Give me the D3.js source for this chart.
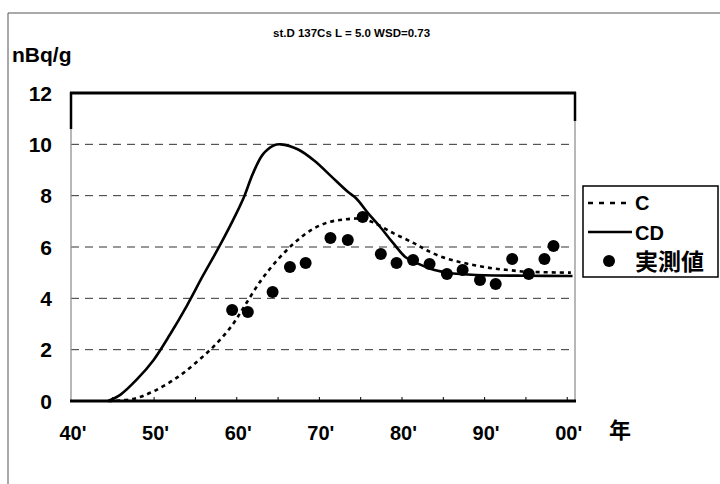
<!DOCTYPE html>
<html>
<head>
<meta charset="utf-8">
<script src="https://cdn.jsdelivr.net/npm/d3@7"></script>
<style>
  body { margin: 0; background: #fff; }
  svg { display: block; font-family: "Liberation Sans", Arial, sans-serif; }
</style>
</head>
<body>
<div id="chart"></div>
<script>
var W = 720, H = 484;

// model curve C (dotted)
var cYears  = [1944.5, 1947.5, 1950, 1953, 1955.5, 1957.5, 1959.5, 1961, 1963, 1965, 1967, 1969, 1971, 1973, 1975, 1976.5, 1979, 1981.5, 1983, 1985, 1987, 1989, 1991, 1993, 1995, 2000.5];
var cValues = [0, 0.08, 0.38, 0.95, 1.6, 2.2, 2.95, 3.7, 4.7, 5.5, 6.15, 6.65, 6.95, 7.07, 7.1, 6.97, 6.54, 6.15, 5.88, 5.6, 5.42, 5.28, 5.17, 5.1, 5.04, 5.0];

// model curve CD (solid)
var cdYears  = [1944.5, 1946, 1948, 1950, 1952, 1954, 1956, 1958, 1960, 1961, 1962, 1963.2, 1964.5, 1965.4, 1967.5, 1969.5, 1971.5, 1973.5, 1974.5, 1976, 1977.5, 1979, 1980.5, 1982, 1984, 1986, 1988, 1990, 1995, 2000.7];
var cdValues = [0, 0.25, 0.85, 1.6, 2.6, 3.7, 4.9, 6.05, 7.3, 8.0, 8.85, 9.6, 9.95, 10.0, 9.8, 9.35, 8.75, 8.15, 7.9, 7.3, 6.75, 6.15, 5.6, 5.35, 5.1, 4.98, 4.93, 4.9, 4.88, 4.87];

// measured values
var obsYears  = [1959.5, 1961.4, 1964.4, 1966.5, 1968.4, 1971.4, 1973.5, 1975.3, 1977.5, 1979.4, 1981.4, 1983.4, 1985.5, 1987.4, 1989.5, 1991.4, 1993.4, 1995.4, 1997.3, 1998.4];
var obsValues = [3.55, 3.47, 4.25, 5.22, 5.38, 6.35, 6.27, 7.17, 5.73, 5.38, 5.49, 5.34, 4.95, 5.1, 4.71, 4.56, 5.53, 4.95, 5.53, 6.04];

var yTicks = [0, 2, 4, 6, 8, 10, 12];
var xLabelYears = [1940, 1950, 1960, 1970, 1980, 1990, 2000];
var xMinorYears = d3.range(1945, 2001, 5);

var svg = d3.select("#chart").append("svg")
  .attr("width", W)
  .attr("height", H);

var pLeft = 71, pRight = 575, pTop = 93, pBottom = 401;

var x = d3.scaleLinear().domain([1940, 2001]).range([pLeft, pRight]);
var y = d3.scaleLinear().domain([0, 12]).range([pBottom, pTop]);

// outer frame (scan edge)
svg.append("line").attr("x1", 8).attr("x2", W).attr("y1", 13).attr("y2", 13)
  .attr("stroke", "#555").attr("stroke-width", 1);
svg.append("line").attr("x1", 8).attr("x2", 8).attr("y1", 13).attr("y2", H)
  .attr("stroke", "#555").attr("stroke-width", 1);

// title
svg.append("text")
  .attr("x", 273).attr("y", 37)
  .attr("font-size", "11.5px").attr("font-weight", "bold")
  .text("st.D 137Cs L = 5.0 WSD=0.73");

// unit
svg.append("text")
  .attr("x", 12).attr("y", 62)
  .attr("font-size", "21px").attr("font-weight", "bold")
  .text("nBq/g");

// gridlines
svg.append("g").selectAll("line")
  .data(yTicks.filter(function(d){ return d > 0 && d < 12; }))
  .enter().append("line")
  .attr("x1", pLeft).attr("x2", pRight)
  .attr("y1", function(d){ return y(d); })
  .attr("y2", function(d){ return y(d); })
  .attr("stroke", "#333").attr("stroke-width", 1)
  .attr("stroke-dasharray", "8,6");

// plot borders
svg.append("line").attr("x1", pLeft).attr("x2", pLeft).attr("y1", pTop).attr("y2", pBottom)
  .attr("stroke", "#888").attr("stroke-width", 1.2);
svg.append("line").attr("x1", pRight).attr("x2", pRight).attr("y1", pTop).attr("y2", pBottom)
  .attr("stroke", "#888").attr("stroke-width", 1.2);
svg.append("line").attr("x1", pLeft).attr("x2", pLeft).attr("y1", pTop - 1).attr("y2", pTop + 36)
  .attr("stroke", "#000").attr("stroke-width", 2.5);
svg.append("line").attr("x1", pRight).attr("x2", pRight).attr("y1", pTop - 1).attr("y2", pTop + 28)
  .attr("stroke", "#000").attr("stroke-width", 2.5);
svg.append("line").attr("x1", pLeft - 1).attr("x2", pRight + 1).attr("y1", pTop).attr("y2", pTop)
  .attr("stroke", "#000").attr("stroke-width", 3);

// y tick labels
svg.append("g").selectAll("text")
  .data(yTicks)
  .enter().append("text")
  .attr("x", 52)
  .attr("y", function(d){ return y(d) + 7.5; })
  .attr("text-anchor", "end")
  .attr("font-size", "21px").attr("font-weight", "bold")
  .text(function(d){ return d; });

// x axis
var xAxis = d3.axisBottom(x)
  .tickValues(xMinorYears)
  .tickSize(-4)
  .tickFormat("");
var gx = svg.append("g").attr("transform", "translate(0," + pBottom + ")").call(xAxis);
gx.select(".domain").remove();
gx.selectAll(".tick line").attr("stroke", "#000").attr("stroke-width", 1);
svg.append("line").attr("x1", pLeft - 1).attr("x2", pRight + 1).attr("y1", pBottom).attr("y2", pBottom)
  .attr("stroke", "#000").attr("stroke-width", 3);

svg.append("g").selectAll("text")
  .data(xLabelYears)
  .enter().append("text")
  .attr("x", function(d){ return x(d) + 2; })
  .attr("y", 440)
  .attr("text-anchor", "middle")
  .attr("font-size", "20px").attr("font-weight", "bold")
  .text(function(d){ return d3.format("02d")(d % 100) + "'"; });

svg.append("text")
  .attr("x", 609).attr("y", 438)
  .attr("font-size", "22px").attr("font-weight", "bold")
  .attr("font-family", "'Noto Sans CJK JP', sans-serif")
  .text("年");

// lines
var line = d3.line()
  .x(function(d){ return x(d[0]); })
  .y(function(d){ return y(d[1]); })
  .curve(d3.curveCatmullRom);

svg.append("path")
  .datum(d3.zip(cYears, cValues))
  .attr("d", line)
  .attr("fill", "none").attr("stroke", "#000")
  .attr("stroke-width", 2.6).attr("stroke-dasharray", "4,4");

svg.append("path")
  .datum(d3.zip(cdYears, cdValues))
  .attr("d", line)
  .attr("fill", "none").attr("stroke", "#000")
  .attr("stroke-width", 2.6);

svg.append("g").selectAll("circle")
  .data(d3.zip(obsYears, obsValues))
  .enter().append("circle")
  .attr("cx", function(d){ return x(d[0]); })
  .attr("cy", function(d){ return y(d[1]); })
  .attr("r", 6)
  .attr("fill", "#000");

// legend
var legend = svg.append("g").attr("class", "legend");
legend.append("rect")
  .attr("x", 583).attr("y", 186).attr("width", 135).attr("height", 91)
  .attr("fill", "#fff").attr("stroke", "#000").attr("stroke-width", 1.5);
legend.append("line").attr("x1", 588).attr("x2", 632).attr("y1", 203).attr("y2", 203)
  .attr("stroke", "#000").attr("stroke-width", 2.6).attr("stroke-dasharray", "5,6");
legend.append("line").attr("x1", 588).attr("x2", 632).attr("y1", 232).attr("y2", 232)
  .attr("stroke", "#000").attr("stroke-width", 2.4);
legend.append("circle").attr("cx", 609).attr("cy", 261).attr("r", 6).attr("fill", "#000");
legend.append("text").attr("x", 635).attr("y", 210)
  .attr("font-size", "20px").attr("font-weight", "bold").text("C");
legend.append("text").attr("x", 635).attr("y", 240)
  .attr("font-size", "20px").attr("font-weight", "bold").text("CD");
legend.append("text").attr("x", 635).attr("y", 270)
  .attr("font-size", "23px").attr("font-weight", "bold")
  .attr("font-family", "'Noto Sans CJK JP', sans-serif")
  .text("実測値");
</script>
</body>
</html>
